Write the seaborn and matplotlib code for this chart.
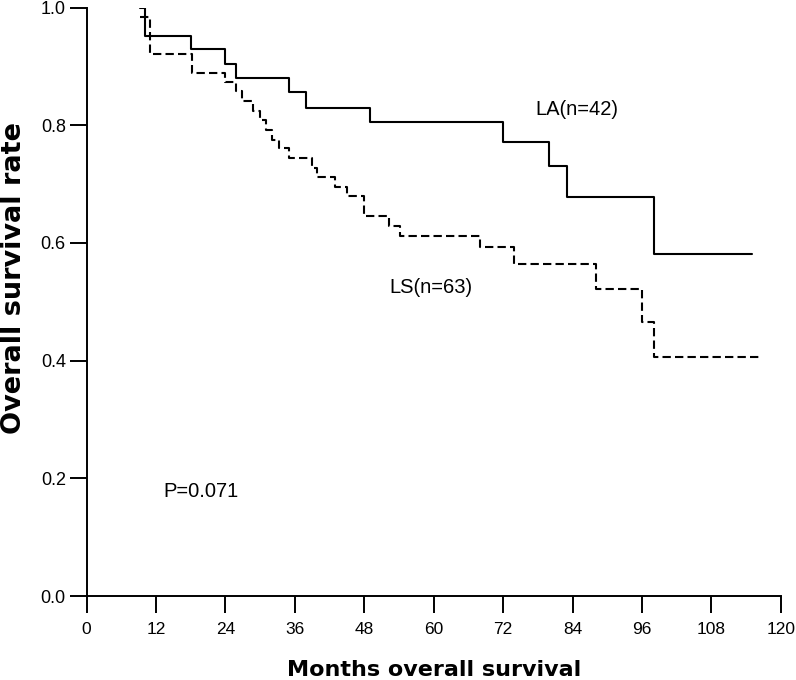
import pandas as pd
import matplotlib
matplotlib.use("Agg")
import matplotlib.pyplot as plt
import seaborn as sns

# Kaplan-Meier steps (months, survival after each step)
la_months = [9.2, 10.0, 18.0, 24.0, 25.9, 35.0, 38.0, 49.0, 72.0, 80.0, 83.1, 98.1, 115.0]
la_surv = [1.0, 0.952, 0.929, 0.905, 0.881, 0.857, 0.830, 0.806, 0.772, 0.730, 0.678, 0.581, 0.581]

ls_months = [9.2, 10.95, 18.2, 24.0, 25.9, 26.9, 28.8, 30.0, 30.95, 32.0, 33.25, 35.0,
             39.0, 39.8, 42.9, 45.0, 48.0, 52.2, 54.1, 68.0, 73.95, 88.1, 96.1, 98.1, 116.4]
ls_surv = [0.984, 0.921, 0.889, 0.874, 0.859, 0.842, 0.825, 0.809, 0.792, 0.775, 0.761, 0.744,
           0.728, 0.712, 0.695, 0.679, 0.646, 0.629, 0.612, 0.594, 0.565, 0.522, 0.465, 0.407, 0.407]

x_ticks = [0, 12, 24, 36, 48, 60, 72, 84, 96, 108, 120]
y_ticks = [0.0, 0.2, 0.4, 0.6, 0.8, 1.0]


def main():
    df = pd.concat([
        pd.DataFrame({"Months": la_months, "Survival": la_surv, "Group": "LA"}),
        pd.DataFrame({"Months": ls_months, "Survival": ls_surv, "Group": "LS"}),
    ], ignore_index=True)

    sns.set_style("ticks")
    plt.rcParams["font.family"] = ["Liberation Sans", "DejaVu Sans"]
    plt.rcParams["text.color"] = "black"
    plt.rcParams["axes.labelcolor"] = "black"

    fig = plt.figure(figsize=(7.96, 6.8), dpi=100)
    ax = fig.add_axes([0.1089, 0.1235, 0.8719, 0.8653])

    sns.lineplot(data=df, x="Months", y="Survival", hue="Group", style="Group",
                 palette={"LA": "black", "LS": "black"},
                 dashes={"LA": "", "LS": (4, 2)},
                 estimator=None, sort=False, drawstyle="steps-post",
                 linewidth=1.5, legend=False, ax=ax)

    ax.set_xlim(0, 120)
    ax.set_ylim(0, 1.0)
    ax.set_xticks(x_ticks)
    ax.set_yticks(y_ticks)
    ax.set_yticklabels([f"{v:.1f}" for v in y_ticks])
    sns.despine(ax=ax)
    for side in ["left", "bottom"]:
        ax.spines[side].set_linewidth(1.4)
        ax.spines[side].set_color("black")
    ax.tick_params(axis="x", length=12, width=1.4, pad=7, labelsize=12.5, colors="black")
    ax.tick_params(axis="y", length=12, width=1.4, pad=3, labelsize=13, colors="black")

    # bold axis titles, DejaVu Bold matches the wide lettering of the original
    ax.set_xlabel("Months overall survival", fontsize=16, fontweight="bold",
                  family="DejaVu Sans", labelpad=16)
    ax.set_ylabel("Overall survival rate", fontsize=19.5, fontweight="bold",
                  family="DejaVu Sans")
    ax.yaxis.set_label_coords(-0.086, 0.540)

    ax.text(77.5, 0.826, "LA(n=42)", fontsize=14.5, va="center", ha="left")
    ax.text(52.4, 0.525, "LS(n=63)", fontsize=14.5, va="center", ha="left")
    ax.text(13.2, 0.178, "P=0.071", fontsize=14.5, va="center", ha="left")

    fig.savefig("out.png", dpi=100)


if __name__ == "__main__":
    main()
